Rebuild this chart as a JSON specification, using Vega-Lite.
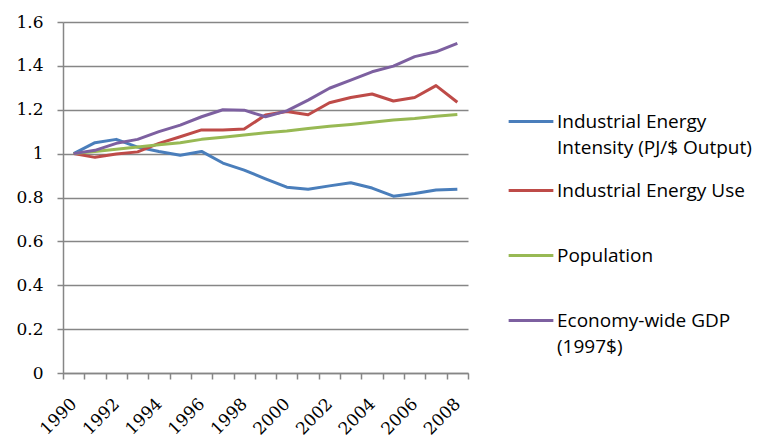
{
  "$schema": "https://vega.github.io/schema/vega-lite/v6.json",
  "width": 405,
  "height": 351,
  "autosize": "none",
  "padding": {"left": 63, "top": 22, "right": 292, "bottom": 70},
  "background": "white",
  "config": {
    "view": {"stroke": null},
    "style": {"guide-label": {"lineHeight": 26}}
  },
  "datasets": {
    "d": [
      {"year": 1990, "series": "Industrial Energy Intensity (PJ/$ Output)", "value": 1.0},
      {"year": 1991, "series": "Industrial Energy Intensity (PJ/$ Output)", "value": 1.05},
      {"year": 1992, "series": "Industrial Energy Intensity (PJ/$ Output)", "value": 1.065},
      {"year": 1993, "series": "Industrial Energy Intensity (PJ/$ Output)", "value": 1.03},
      {"year": 1994, "series": "Industrial Energy Intensity (PJ/$ Output)", "value": 1.01},
      {"year": 1995, "series": "Industrial Energy Intensity (PJ/$ Output)", "value": 0.993},
      {"year": 1996, "series": "Industrial Energy Intensity (PJ/$ Output)", "value": 1.01},
      {"year": 1997, "series": "Industrial Energy Intensity (PJ/$ Output)", "value": 0.957},
      {"year": 1998, "series": "Industrial Energy Intensity (PJ/$ Output)", "value": 0.925},
      {"year": 1999, "series": "Industrial Energy Intensity (PJ/$ Output)", "value": 0.885},
      {"year": 2000, "series": "Industrial Energy Intensity (PJ/$ Output)", "value": 0.847},
      {"year": 2001, "series": "Industrial Energy Intensity (PJ/$ Output)", "value": 0.838},
      {"year": 2002, "series": "Industrial Energy Intensity (PJ/$ Output)", "value": 0.853},
      {"year": 2003, "series": "Industrial Energy Intensity (PJ/$ Output)", "value": 0.867},
      {"year": 2004, "series": "Industrial Energy Intensity (PJ/$ Output)", "value": 0.843},
      {"year": 2005, "series": "Industrial Energy Intensity (PJ/$ Output)", "value": 0.806},
      {"year": 2006, "series": "Industrial Energy Intensity (PJ/$ Output)", "value": 0.818},
      {"year": 2007, "series": "Industrial Energy Intensity (PJ/$ Output)", "value": 0.834},
      {"year": 2008, "series": "Industrial Energy Intensity (PJ/$ Output)", "value": 0.838},
      {"year": 1990, "series": "Industrial Energy Use", "value": 1.0},
      {"year": 1991, "series": "Industrial Energy Use", "value": 0.983},
      {"year": 1992, "series": "Industrial Energy Use", "value": 0.998},
      {"year": 1993, "series": "Industrial Energy Use", "value": 1.008},
      {"year": 1994, "series": "Industrial Energy Use", "value": 1.047},
      {"year": 1995, "series": "Industrial Energy Use", "value": 1.077},
      {"year": 1996, "series": "Industrial Energy Use", "value": 1.108},
      {"year": 1997, "series": "Industrial Energy Use", "value": 1.108},
      {"year": 1998, "series": "Industrial Energy Use", "value": 1.112},
      {"year": 1999, "series": "Industrial Energy Use", "value": 1.176},
      {"year": 2000, "series": "Industrial Energy Use", "value": 1.192},
      {"year": 2001, "series": "Industrial Energy Use", "value": 1.177},
      {"year": 2002, "series": "Industrial Energy Use", "value": 1.232},
      {"year": 2003, "series": "Industrial Energy Use", "value": 1.256},
      {"year": 2004, "series": "Industrial Energy Use", "value": 1.272},
      {"year": 2005, "series": "Industrial Energy Use", "value": 1.24},
      {"year": 2006, "series": "Industrial Energy Use", "value": 1.256},
      {"year": 2007, "series": "Industrial Energy Use", "value": 1.31},
      {"year": 2008, "series": "Industrial Energy Use", "value": 1.234},
      {"year": 1990, "series": "Population", "value": 1.0},
      {"year": 1991, "series": "Population", "value": 1.01},
      {"year": 1992, "series": "Population", "value": 1.02},
      {"year": 1993, "series": "Population", "value": 1.03},
      {"year": 1994, "series": "Population", "value": 1.04},
      {"year": 1995, "series": "Population", "value": 1.05},
      {"year": 1996, "series": "Population", "value": 1.065},
      {"year": 1997, "series": "Population", "value": 1.075},
      {"year": 1998, "series": "Population", "value": 1.085},
      {"year": 1999, "series": "Population", "value": 1.095},
      {"year": 2000, "series": "Population", "value": 1.103},
      {"year": 2001, "series": "Population", "value": 1.115},
      {"year": 2002, "series": "Population", "value": 1.125},
      {"year": 2003, "series": "Population", "value": 1.133},
      {"year": 2004, "series": "Population", "value": 1.143},
      {"year": 2005, "series": "Population", "value": 1.153},
      {"year": 2006, "series": "Population", "value": 1.16},
      {"year": 2007, "series": "Population", "value": 1.17},
      {"year": 2008, "series": "Population", "value": 1.178},
      {"year": 1990, "series": "Economy-wide GDP (1997$)", "value": 1.0},
      {"year": 1991, "series": "Economy-wide GDP (1997$)", "value": 1.015},
      {"year": 1992, "series": "Economy-wide GDP (1997$)", "value": 1.047},
      {"year": 1993, "series": "Economy-wide GDP (1997$)", "value": 1.065},
      {"year": 1994, "series": "Economy-wide GDP (1997$)", "value": 1.1},
      {"year": 1995, "series": "Economy-wide GDP (1997$)", "value": 1.13},
      {"year": 1996, "series": "Economy-wide GDP (1997$)", "value": 1.168},
      {"year": 1997, "series": "Economy-wide GDP (1997$)", "value": 1.2},
      {"year": 1998, "series": "Economy-wide GDP (1997$)", "value": 1.198},
      {"year": 1999, "series": "Economy-wide GDP (1997$)", "value": 1.168},
      {"year": 2000, "series": "Economy-wide GDP (1997$)", "value": 1.195},
      {"year": 2001, "series": "Economy-wide GDP (1997$)", "value": 1.244},
      {"year": 2002, "series": "Economy-wide GDP (1997$)", "value": 1.298},
      {"year": 2003, "series": "Economy-wide GDP (1997$)", "value": 1.335},
      {"year": 2004, "series": "Economy-wide GDP (1997$)", "value": 1.373},
      {"year": 2005, "series": "Economy-wide GDP (1997$)", "value": 1.399},
      {"year": 2006, "series": "Economy-wide GDP (1997$)", "value": 1.442},
      {"year": 2007, "series": "Economy-wide GDP (1997$)", "value": 1.464},
      {"year": 2008, "series": "Economy-wide GDP (1997$)", "value": 1.503}
    ]
  },
  "data": {"name": "d"},
  "mark": {"type": "line", "strokeWidth": 3, "strokeJoin": "round"},
  "encoding": {
    "x": {
      "field": "year",
      "type": "ordinal",
      "bandPosition": 0.5,
      "scale": {"type": "band", "paddingInner": 0, "paddingOuter": 0},
      "axis": {
        "title": null,
        "labelAngle": -45,
        "labelAlign": "right",
        "labelBaseline": "middle",
        "labelFont": "DejaVu Serif",
        "labelFontSize": 17,
        "labelColor": "#000000",
        "labelPadding": 22,
        "labelOverlap": false,
        "labelExpr": "datum.value % 2 == 0 ? datum.label : ''",
        "tickBand": "extent",
        "tickSize": 6,
        "tickColor": "#868686",
        "tickWidth": 1.5,
        "domainColor": "#868686",
        "domainWidth": 1.5,
        "grid": false
      }
    },
    "y": {
      "field": "value",
      "type": "quantitative",
      "scale": {"domain": [0, 1.6], "nice": false, "zero": true},
      "axis": {
        "title": null,
        "values": [0, 0.2, 0.4, 0.6, 0.8, 1, 1.2, 1.4, 1.6],
        "format": ".2~g",
        "labelFont": "DejaVu Serif",
        "labelFontSize": 17,
        "labelColor": "#000000",
        "labelPadding": 14,
        "tickSize": 6,
        "tickColor": "#868686",
        "tickWidth": 1.5,
        "domainColor": "#868686",
        "domainWidth": 1.5,
        "grid": true,
        "gridColor": "#868686",
        "gridWidth": 1.5
      }
    },
    "color": {
      "field": "series",
      "type": "nominal",
      "scale": {
        "domain": ["Industrial Energy Intensity (PJ/$ Output)", "Industrial Energy Use", "Population", "Economy-wide GDP (1997$)"],
        "range": ["#4A7EBB", "#BE4B48", "#98B954", "#7D60A0"]
      },
      "legend": {
        "title": null,
        "orient": "none",
        "legendX": 444,
        "legendY": 67,
        "direction": "vertical",
        "symbolType": "stroke",
        "symbolSize": 2000,
        "symbolStrokeWidth": 3,
        "labelFont": "Open Sans",
        "labelFontSize": 19,
        "labelColor": "#000000",
        "labelOffset": 2,
        "labelLimit": 300,
        "clipHeight": 65,
        "rowPadding": 0,
        "labelExpr": "datum.label == 'Industrial Energy Intensity (PJ/$ Output)' ? ['Industrial Energy', 'Intensity (PJ/$ Output)'] : datum.label == 'Economy-wide GDP (1997$)' ? ['Economy-wide GDP', '(1997$)'] : datum.label"
      }
    }
  }
}
